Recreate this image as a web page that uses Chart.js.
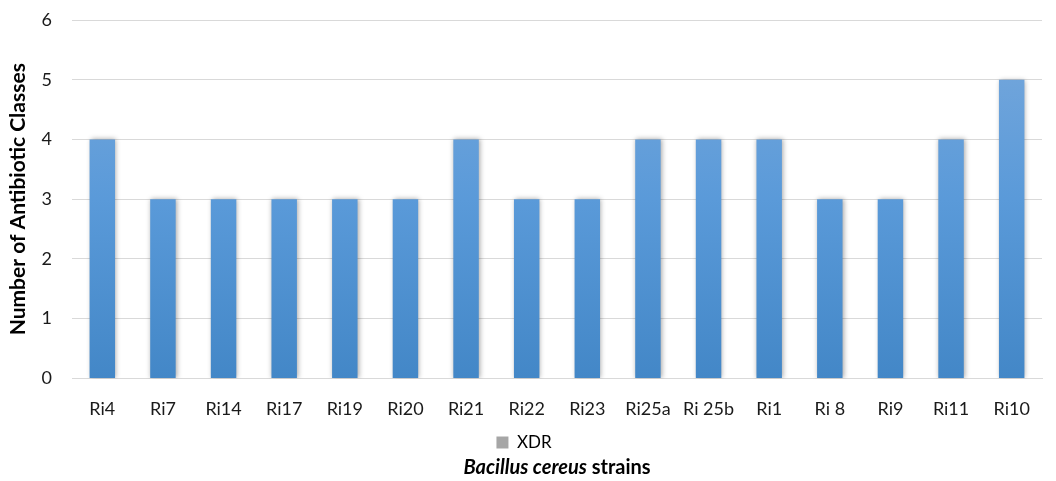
<!DOCTYPE html>
<html>
<head>
<meta charset="utf-8">
<script src="https://cdn.jsdelivr.net/npm/chart.js@4.4.1/dist/chart.umd.min.js"></script>
<style>
  html, body { margin: 0; padding: 0; background: #fff; }
  #wrap { width: 1056px; height: 481px; }
</style>
</head>
<body>
<div id="wrap"><canvas id="c" width="1056" height="481"></canvas></div>
<script>
// strains on the x axis
var strains = ['Ri4', 'Ri7', 'Ri14', 'Ri17', 'Ri19', 'Ri20', 'Ri21', 'Ri22', 'Ri23', 'Ri25a', 'Ri 25b', 'Ri1', 'Ri 8', 'Ri9', 'Ri11', 'Ri10'];
// number of antibiotic classes (XDR)
var xdr = [4, 3, 3, 3, 3, 3, 4, 3, 3, 4, 4, 4, 3, 3, 4, 5];
var yTicks = [0, 1, 2, 3, 4, 5, 6];

var fontFam = 'Lato, "Noto Sans", sans-serif';

function barGradient(ctx) {
  var chart = ctx.chart;
  var area = chart.chartArea;
  if (!area) return '#5b9bd5';
  var g = chart.ctx.createLinearGradient(0, area.top, 0, area.bottom);
  g.addColorStop(0, '#79a9dc');
  g.addColorStop(0.5, '#5a9ad9');
  g.addColorStop(1, '#4387c7');
  return g;
}

// soft shadow behind the bars
var shadowPlugin = {
  id: 'barShadow',
  beforeDatasetsDraw: function (chart) {
    var c = chart.ctx;
    c.save();
    c.shadowColor = 'rgba(0,0,0,0.35)';
    c.shadowBlur = 5;
    c.shadowOffsetX = 1;
    c.shadowOffsetY = 0;
  },
  afterDatasetsDraw: function (chart) {
    chart.ctx.restore();
  }
};

// x title has mixed italic, so draw it by hand
var xTitlePlugin = {
  id: 'xTitle',
  afterDraw: function (chart) {
    var c = chart.ctx;
    var a = chart.chartArea;
    var part1 = 'Bacillus cereus';
    var part2 = ' strains';
    c.save();
    c.fillStyle = '#000';
    c.textBaseline = 'middle';
    c.font = 'italic bold 20px ' + fontFam;
    var w1 = c.measureText(part1).width;
    c.font = 'bold 20px ' + fontFam;
    var w2 = c.measureText(part2).width;
    var cx = (a.left + a.right) / 2;
    var x0 = cx - (w1 + w2) / 2;
    var y = 468;
    c.font = 'italic bold 20px ' + fontFam;
    c.textAlign = 'left';
    c.fillText(part1, x0, y);
    c.font = 'bold 20px ' + fontFam;
    c.fillText(part2, x0 + w1, y);
    c.restore();
  }
};

new Chart(document.getElementById('c'), {
  type: 'bar',
  data: {
    labels: strains,
    datasets: [{
      label: 'XDR',
      data: xdr,
      backgroundColor: barGradient,
      borderWidth: 0,
      categoryPercentage: 1,
      barPercentage: 0.42
    }]
  },
  options: {
    responsive: false,
    animation: false,
    layout: { padding: { top: 20, right: 14, bottom: 20, left: 6 } },
    plugins: {
      tooltip: { enabled: false },
      legend: {
        position: 'bottom',
        labels: {
          font: { family: fontFam, size: 17 },
          color: '#262626',
          boxWidth: 12,
          boxHeight: 12,
          padding: 2,
          generateLabels: function () {
            return [{ text: 'XDR', fillStyle: '#a6a6a6', strokeStyle: '#a6a6a6', lineWidth: 0, datasetIndex: 0 }];
          }
        }
      }
    },
    scales: {
      x: {
        grid: { display: false },
        border: { display: true, color: '#d9d9d9', width: 1 },
        ticks: { font: { family: fontFam, size: 18 }, color: '#1a1a1a', padding: 12, maxRotation: 0, autoSkip: false }
      },
      y: {
        min: 0,
        max: 6,
        afterBuildTicks: function (axis) {
          axis.ticks = yTicks.map(function (v) { return { value: v }; });
        },
        afterFit: function (scale) {
          scale.width = 66;
          scale.paddingTop = 0;
          scale.paddingBottom = 0;
        },
        grid: { color: '#d9d9d9', lineWidth: 1, drawTicks: false },
        border: { display: false },
        ticks: { font: { family: fontFam, size: 18, lineHeight: 1 }, color: '#1a1a1a', padding: 20 },
        title: {
          display: true,
          text: 'Number of Antibiotic Classes',
          font: { family: fontFam, size: 21, weight: 'bold', lineHeight: 1.15 },
          color: '#000',
          padding: { top: 0, bottom: 0 }
        }
      }
    }
  },
  plugins: [shadowPlugin, xTitlePlugin]
});
</script>
</body>
</html>
